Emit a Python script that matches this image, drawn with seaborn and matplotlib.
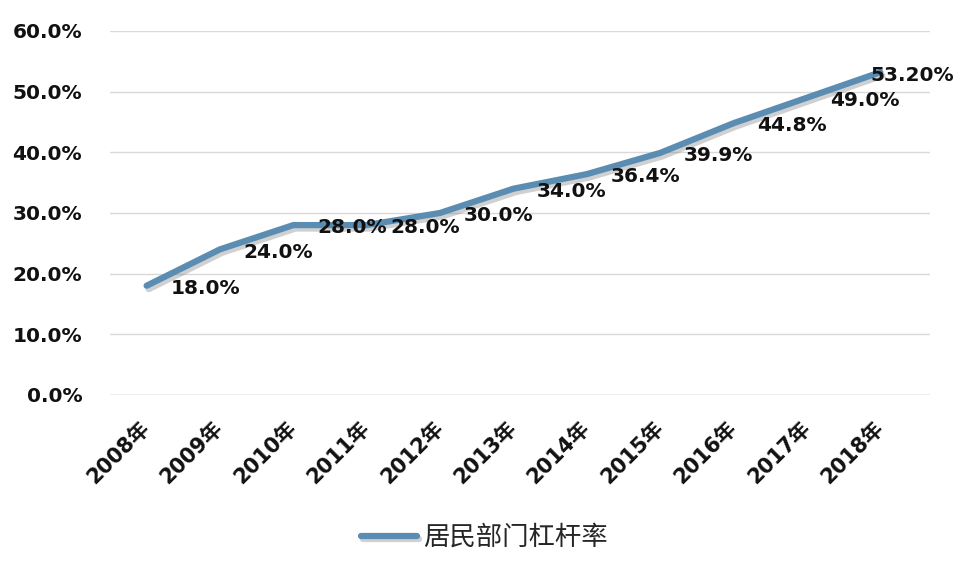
import pandas as pd
import seaborn as sns
import matplotlib.pyplot as plt
import matplotlib.patheffects as pe
import matplotlib.transforms as mtransforms

years = ["2008年", "2009年", "2010年", "2011年", "2012年", "2013年",
         "2014年", "2015年", "2016年", "2017年", "2018年"]
leverage = [18.0, 24.0, 28.0, 28.0, 30.0, 34.0, 36.4, 39.9, 44.8, 49.0, 53.2]
value_labels = ["18.0%", "24.0%", "28.0%", "28.0%", "30.0%", "34.0%",
                "36.4%", "39.9%", "44.8%", "49.0%", "53.20%"]
series_name = "居民部门杠杆率"

sns.set_style("white")
plt.rcParams['font.family'] = ['DejaVu Sans', 'Noto Sans CJK SC']

df = pd.DataFrame({"year": years, "value": leverage})

fig = plt.figure(figsize=(9.56, 5.74), dpi=100)
ax = fig.add_axes([0.115, 0.312, 0.858, 0.634])

line_color = "#5A8DB1"
sns.lineplot(data=df, x="year", y="value", ax=ax, color=line_color,
             linewidth=4.5, label=series_name, sort=False,
             path_effects=[pe.SimpleLineShadow(offset=(1.5, -2.5), shadow_color="#7a7a7a", alpha=0.35),
                           pe.Normal()])

for i, (v, lab) in enumerate(zip(leverage, value_labels)):
    dx = -7 if i == len(leverage) - 1 else 17
    ax.annotate(lab, (i, v), xytext=(dx, -2), textcoords="offset points",
                ha="left", va="center", fontsize=14.5, fontweight="bold",
                color="#111111")

ax.set_ylim(0, 60)
ax.set_xlim(-0.5, 10.68)
ax.set_yticks(range(0, 61, 10))
ax.set_yticklabels([f"{t:.1f}%" for t in range(0, 61, 10)],
                   fontsize=14.5, fontweight="bold", color="#111111")
ax.set_xticks(range(len(years)))
ax.set_xticklabels(years, rotation=45, ha="right", rotation_mode="anchor",
                   fontsize=15, fontweight="bold", color="#111111")
ax.tick_params(axis="x", pad=16, length=0)
ax.tick_params(axis="y", pad=20, length=0)
# nudge the rotated year labels a bit to the left, like the original
shift = mtransforms.ScaledTranslation(-7 / 100, 0, fig.dpi_scale_trans)
for t in ax.get_xticklabels():
    t.set_transform(t.get_transform() + shift)
ax.grid(axis="y", color="#d9d9d9", linewidth=1)
ax.set_axisbelow(True)
ax.set_xlabel("")
ax.set_ylabel("")
sns.despine(ax=ax, left=True, bottom=True)
ax.axhline(0, color="#bfbfbf", linewidth=1, zorder=0)

ax.get_legend().remove()
handles, labels = ax.get_legend_handles_labels()
fig.legend(handles, labels, loc="center", bbox_to_anchor=(0.507, 0.064),
           frameon=False, handlelength=2.1, handletextpad=0.25,
           prop={"family": ["Noto Sans CJK SC"], "size": 19})

fig.savefig("out.png", dpi=100)
